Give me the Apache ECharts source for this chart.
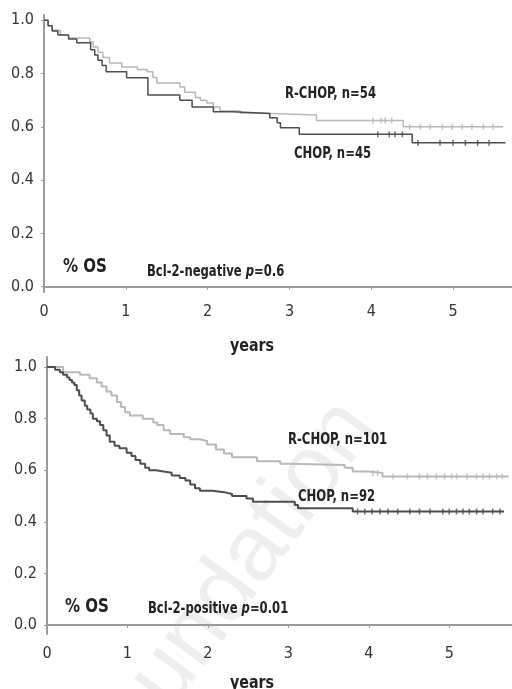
<!DOCTYPE html>
<html>
<head>
<meta charset="utf-8">
<script src="https://cdn.jsdelivr.net/npm/echarts@6/dist/echarts.min.js"></script>
<style>
  html, body { margin: 0; padding: 0; background: #fff; }
  #chart { width: 512px; height: 689px; }
</style>
</head>
<body>
<div id="chart"></div>
<script>
// tick values
const xTicks = [0, 1, 2, 3, 4, 5]
const yTicks = [0, 0.2, 0.4, 0.6, 0.8, 1.0]

// Bcl-2-negative panel, [years, survival]
const negRchop = [[0, 1.0], [0.05, 0.98], [0.1, 0.963], [0.2, 0.945], [0.3, 0.934], [0.56, 0.92], [0.6, 0.9],
  [0.66, 0.88], [0.72, 0.86], [0.8, 0.84], [0.95, 0.825], [1.14, 0.815], [1.26, 0.807], [1.33, 0.785],
  [1.38, 0.765], [1.66, 0.75], [1.72, 0.73], [1.85, 0.71], [1.91, 0.7], [1.99, 0.69], [2.07, 0.675],
  [2.15, 0.66], [2.4, 0.652], [2.6, 0.645], [3.33, 0.624], [4.39, 0.6], [5.61, 0.6]]
const negChop = [[0, 1.0], [0.05, 0.98], [0.1, 0.96], [0.17, 0.945], [0.3, 0.93], [0.4, 0.916], [0.57, 0.89],
  [0.62, 0.87], [0.66, 0.85], [0.71, 0.83], [0.76, 0.807], [1.01, 0.784], [1.27, 0.72], [1.66, 0.7],
  [1.81, 0.675], [2.07, 0.657], [2.3, 0.65], [2.76, 0.634], [2.85, 0.615], [2.89, 0.597], [3.12, 0.572],
  [4.5, 0.54], [5.64, 0.54]]
const negRchopCensor = [4.02, 4.12, 4.17, 4.25, 4.47, 4.6, 4.72, 4.87, 4.99, 5.11, 5.23, 5.37, 5.49]
const negChopCensor = [4.08, 4.22, 4.29, 4.38, 4.57, 4.84, 5.0, 5.15, 5.3, 5.44]

// Bcl-2-positive panel, [years, survival]
const posRchop = [[0, 1.0], [0.2, 0.98], [0.41, 0.97], [0.53, 0.957], [0.62, 0.94], [0.68, 0.925], [0.74, 0.905],
  [0.8, 0.89], [0.87, 0.865], [0.92, 0.845], [0.97, 0.825], [1.03, 0.812], [1.19, 0.8], [1.32, 0.785],
  [1.37, 0.775], [1.45, 0.755], [1.53, 0.74], [1.7, 0.728], [1.78, 0.72], [1.9, 0.713], [1.99, 0.7],
  [2.1, 0.68], [2.2, 0.665], [2.3, 0.65], [2.61, 0.635], [2.9, 0.625], [3.0, 0.62], [3.7, 0.61],
  [3.8, 0.595], [4.0, 0.589], [4.17, 0.576], [5.74, 0.576]]
const posChop = [[0, 1.0], [0.1, 0.99], [0.16, 0.98], [0.2, 0.97], [0.25, 0.96], [0.28, 0.95], [0.31, 0.94],
  [0.34, 0.93], [0.37, 0.91], [0.4, 0.89], [0.43, 0.87], [0.47, 0.85], [0.5, 0.835], [0.54, 0.82],
  [0.57, 0.8], [0.62, 0.79], [0.66, 0.775], [0.7, 0.755], [0.74, 0.735], [0.78, 0.71], [0.84, 0.695],
  [0.9, 0.685], [0.99, 0.668], [1.05, 0.655], [1.1, 0.64], [1.16, 0.625], [1.22, 0.61], [1.27, 0.6],
  [1.35, 0.595], [1.45, 0.59], [1.55, 0.58], [1.65, 0.57], [1.72, 0.56], [1.78, 0.545], [1.84, 0.53],
  [1.9, 0.52], [2.06, 0.515], [2.2, 0.508], [2.3, 0.5], [2.48, 0.49], [2.56, 0.478], [3.08, 0.465],
  [3.12, 0.453], [3.8, 0.44], [5.68, 0.44]]
const posRchopCensor = [4.05, 4.11, 4.3, 4.48, 4.63, 4.73, 4.84, 4.94, 5.03, 5.09, 5.22, 5.34, 5.42, 5.5, 5.59, 5.66]
const posChopCensor = [3.86, 3.95, 4.04, 4.14, 4.24, 4.36, 4.51, 4.63, 4.76, 4.92, 5.0, 5.09, 5.17, 5.25,
  5.34, 5.42, 5.54, 5.63]

const NARROW = "'DejaVu Sans Condensed', sans-serif"
const DARK = '#4d4d4d'
const LIGHT = '#b8b8b8'
const AXIS = '#9a9a9a'

// survival value of a step curve at time t
const survivalAt = (curve, t) => {
  let s = curve[0][1]
  curve.forEach(p => { if (p[0] <= t) s = p[1] })
  return s
}

const makeX = (i, max) => ({
  type: 'value', gridIndex: i, min: 0, max: max,
  axisLine: { lineStyle: { color: AXIS, width: 2 } },
  axisTick: { customValues: xTicks, length: 3, lineStyle: { color: AXIS } },
  axisLabel: { customValues: xTicks, margin: 12, color: '#333', fontSize: 16, fontFamily: NARROW },
  splitLine: { show: false }
})

const makeY = (i, min, max) => ({
  type: 'value', gridIndex: i, min: min, max: max,
  axisLine: { show: true, lineStyle: { color: AXIS, width: 2 } },
  axisTick: { show: true, customValues: yTicks, length: 3, lineStyle: { color: AXIS } },
  axisLabel: { customValues: yTicks, margin: 10, color: '#333', fontSize: 16, fontFamily: NARROW,
    formatter: v => v.toFixed(1) },
  splitLine: { show: false }
})

const curve = (i, data, color, width) => ({
  type: 'line', xAxisIndex: i, yAxisIndex: i, step: 'end', showSymbol: false, silent: true,
  lineStyle: { color: color, width: width }, data: data, z: color === DARK ? 3 : 2
})

const censor = (i, times, data, color) => ({
  type: 'scatter', xAxisIndex: i, yAxisIndex: i, symbol: 'rect', symbolSize: [1.5, 6], silent: true,
  itemStyle: { color: color }, data: times.map(t => [t, survivalAt(data, t)]), z: 4
})

// bold condensed label, squeezed horizontally to match the narrow face
const label = (text, x, y, size, sx, align) => ({
  type: 'text', x: x, y: y, scaleX: sx, z: 10,
  style: {
    text: text, fill: '#222', fontSize: size, fontWeight: 'bold', fontFamily: NARROW,
    textAlign: align || 'left', textVerticalAlign: 'middle',
    rich: { i: { fontStyle: 'italic', fontSize: size, fontWeight: 'bold', fontFamily: NARROW, fill: '#222' } }
  }
})

const chart = echarts.init(document.getElementById('chart'))

chart.setOption({
  animation: false,
  grid: [
    { left: 44, top: 15, width: 468, height: 277 },
    { left: 47, top: 357, width: 465, height: 277 }
  ],
  xAxis: [makeX(0, 5.72), makeX(1, 5.78)],
  yAxis: [makeY(0, -0.02, 1.02), makeY(1, -0.035, 1.039)],
  series: [
    curve(0, negRchop, LIGHT, 1.5),
    curve(0, negChop, DARK, 1.5),
    censor(0, negRchopCensor, negRchop, LIGHT),
    censor(0, negChopCensor, negChop, DARK),
    curve(1, posRchop, LIGHT, 2),
    curve(1, posChop, DARK, 2),
    censor(1, posRchopCensor, posRchop, LIGHT),
    censor(1, posChopCensor, posChop, DARK)
  ],
  graphic: [
    // watermark
    { type: 'text', x: 222, y: 598, rotation: 54 * Math.PI / 180, z: 0, silent: true,
      style: { text: 'Foundation', fill: '#efefef', fontSize: 92, fontFamily: 'Liberation Sans',
        textAlign: 'center', textVerticalAlign: 'middle' } },
    label('R-CHOP, n=54', 285, 94, 16, 0.81),
    label('CHOP, n=45', 294, 154, 16, 0.81),
    label('% OS', 63, 267, 19, 0.88),
    label('Bcl-2-negative {i|p}=0.6', 147, 272, 15, 0.86),
    label('years', 252, 346, 18, 0.88, 'center'),
    label('R-CHOP, n=101', 288, 440, 16, 0.81),
    label('CHOP, n=92', 298, 497, 16, 0.81),
    label('% OS', 65, 607, 19, 0.88),
    label('Bcl-2-positive {i|p}=0.01', 148, 609, 15, 0.86),
    label('years', 252, 683, 18, 0.88, 'center')
  ]
})
</script>
</body>
</html>
